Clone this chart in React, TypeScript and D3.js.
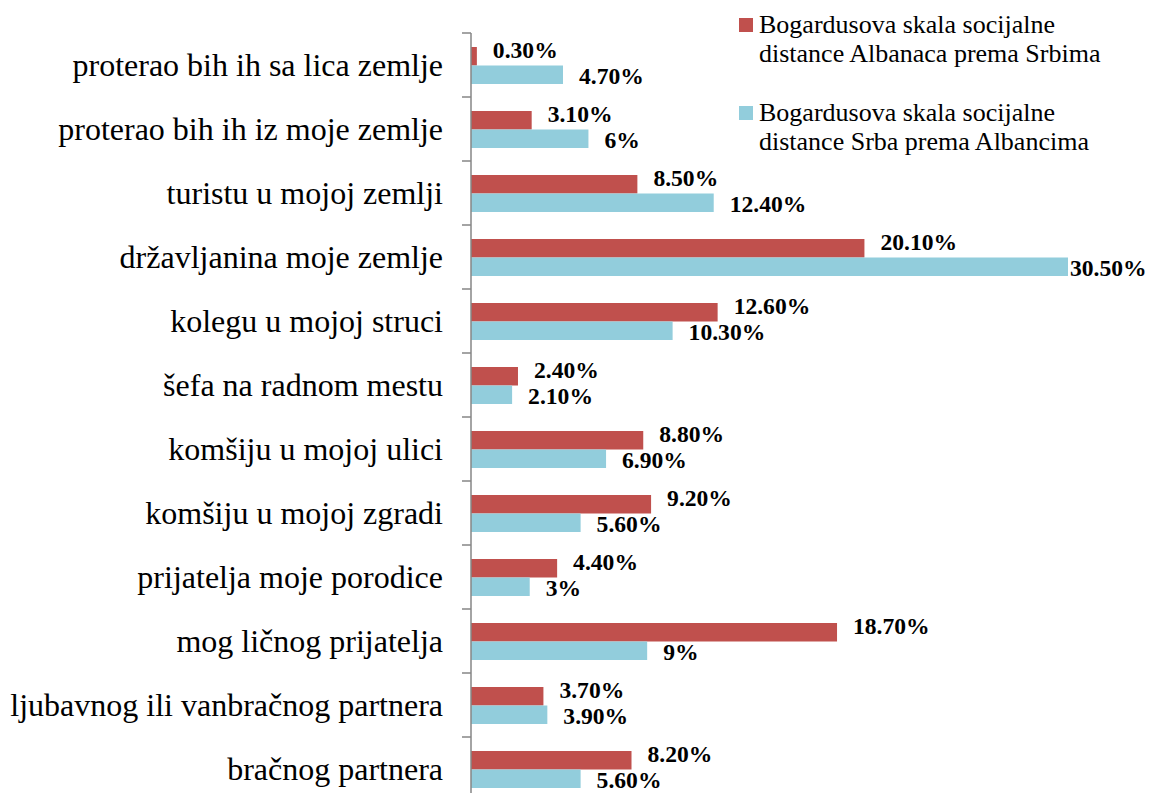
import React, { useRef, useEffect } from 'react'
import * as d3 from 'd3'

// categories, top to bottom
const categories = [
    'proterao bih ih sa lica zemlje',
    'proterao bih ih iz moje zemlje',
    'turistu u mojoj zemlji',
    'državljanina moje zemlje',
    'kolegu u mojoj struci',
    'šefa na radnom mestu',
    'komšiju u mojoj ulici',
    'komšiju u mojoj zgradi',
    'prijatelja moje porodice',
    'mog ličnog prijatelja',
    'ljubavnog ili vanbračnog partnera',
    'bračnog partnera',
]

const albanciPremaSrbima = [0.3, 3.1, 8.5, 20.1, 12.6, 2.4, 8.8, 9.2, 4.4, 18.7, 3.7, 8.2]
const srbiPremaAlbancima = [4.7, 6, 12.4, 30.5, 10.3, 2.1, 6.9, 5.6, 3, 9, 3.9, 5.6]

const seriesNames = [
    ['Bogardusova skala socijalne', 'distance Albanaca prema Srbima'],
    ['Bogardusova skala socijalne', 'distance Srba prema Albancima'],
]
const seriesColors = ['#C0504D', '#92CDDC']

const width = 1150
const height = 793
const fontFamily = "'Liberation Serif', monospace"

const axisX = 471
const top = 33
const band = 64

const xScale = d3.scaleLinear().domain([0, 30.5]).range([axisX, 1068])
const yScale = d3.scaleBand<string>()
    .domain(categories)
    .range([top, top + band * categories.length])
const inner = d3.scaleBand<number>().domain([0, 1]).range([14, 51])

const fmt = (v: number) => Number.isInteger(v) ? `${v}%` : `${v.toFixed(2)}%`

export default function App() {
    const axisEl = useRef<SVGGElement>(null)

    useEffect(() => {
        const axisG = d3.select(axisEl.current)
        axisG.selectAll('*').remove()
        axisG.call(d3.axisLeft(yScale).tickSize(9).tickFormat(() => ''))
        axisG.selectAll('.tick').remove()
        // ticks sit on the band edges
        axisG.selectAll('line.b').data(d3.range(categories.length + 1)).enter().append('line')
            .attr('class', 'b')
            .attr('x1', -9).attr('x2', 0)
            .attr('y1', i => top + band * i).attr('y2', i => top + band * i)
            .attr('stroke', '#868686').attr('stroke-width', 1.5)
        axisG.select('.domain')
            .attr('d', `M0,${top}V${top + band * categories.length}`)
            .attr('stroke', '#868686').attr('stroke-width', 1.5)
    }, [])

    const rows = categories.map((c, i) => ({ c, vals: [albanciPremaSrbima[i], srbiPremaAlbancima[i]] }))

    return (
        <svg width={width} height={height} style={{ position: 'absolute', left: 0, top: 0 }}>
            {rows.map(r => (
                <g key={r.c} transform={`translate(0,${yScale(r.c)})`}>
                    <text x={443} y={band / 2 + 11} textAnchor="end" fontSize={32}
                        style={{ fontFamily }} fill="#000">{r.c}</text>
                    {r.vals.map((v, j) => (
                        <rect key={'r' + j} x={axisX} y={inner(j)} width={xScale(v) - axisX}
                            height={inner.bandwidth()} fill={seriesColors[j]} />
                    ))}
                    {r.vals.map((v, j) => {
                        const end = xScale(v)
                        const x = end + 16 + 80 > width ? end + 2 : end + 16
                        const y = j === 0 ? inner(0)! + 11 : inner(1)! + inner.bandwidth()
                        return (
                            <text key={'t' + j} x={x} y={y} fill="#000" fontSize={23.6} fontWeight="bold"
                                style={{ fontFamily }}>{fmt(v)}</text>
                        )
                    })}
                </g>
            ))}
            <g ref={axisEl} transform={`translate(${axisX},0)`} />
            <g transform="translate(739,18)">
                {seriesNames.map((lines, i) => (
                    <g key={i} transform={`translate(0,${i * 88})`}>
                        <rect width={14} height={14} fill={seriesColors[i]} />
                        {lines.map((l, k) => (
                            <text key={k} x={20} y={15 + k * 29} fill="#000" fontSize={26}
                                style={{ fontFamily }}>{l}</text>
                        ))}
                    </g>
                ))}
            </g>
        </svg>
    )
}
